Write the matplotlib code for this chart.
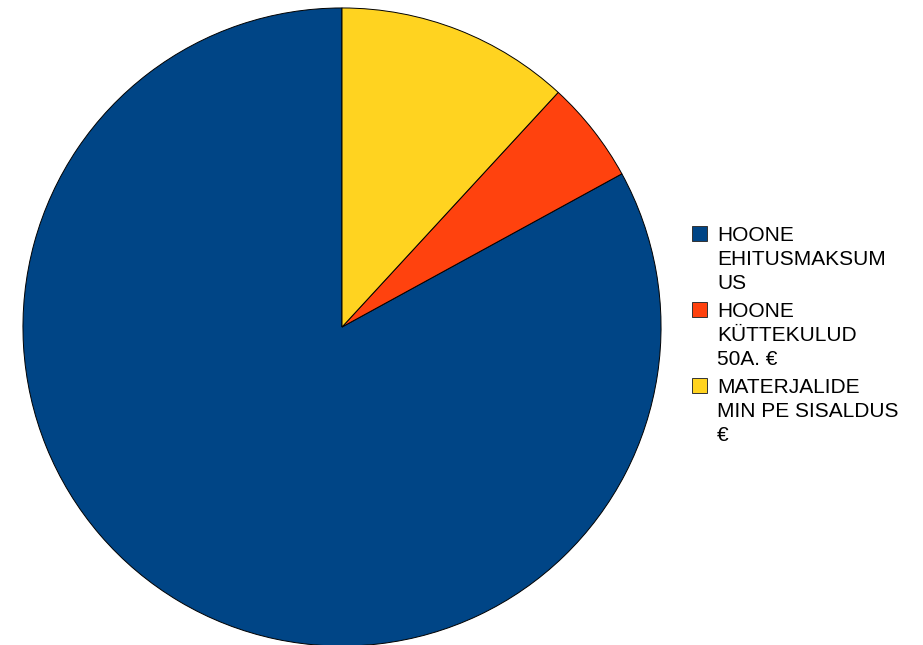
import matplotlib
matplotlib.use("Agg")
import matplotlib.pyplot as plt
from matplotlib.patches import Rectangle

plt.rcParams['font.family'] = ['Liberation Sans', 'DejaVu Sans']

# cost shares (%)
labels = [
    ["HOONE", "EHITUSMAKSUM", "US"],
    ["HOONE", "KÜTTEKULUD", "50A. €"],
    ["MATERJALIDE", "MIN PE SISALDUS", "€"],
]
values = [82.97, 5.18, 11.85]
colors = ["#004586", "#ff420e", "#ffd320"]

W, H = 923, 645
fig = plt.figure(figsize=(W / 100, H / 100), dpi=100)
ax = fig.add_axes([22 / W, -2 / H, 640 / W, 640 / H])

wedges, _ = ax.pie(values, colors=colors, startangle=90, counterclock=True,
                   wedgeprops=dict(edgecolor="black", linewidth=0.7))
ax.set_xlim(-1.003, 1.003)
ax.set_ylim(-1.003, 1.003)
ax.set_aspect("equal")

# legend drawn by hand, pixel positions from the top-left corner
def px(x, y):
    return x / W, 1 - y / H

for i, (lines, c) in enumerate(zip(labels, colors)):
    base = 241 + i * 76
    x0, y0 = px(692, base)
    fig.patches.append(Rectangle((x0, y0), 15 / W, 15 / H, transform=fig.transFigure,
                                 facecolor=c, edgecolor="#333333", linewidth=0.7))
    for j, line in enumerate(lines):
        tx, ty = px(717, base + j * 24)
        fig.text(tx, ty, line, fontsize=15, va="baseline", ha="left", color="black")

fig.savefig("out.png", dpi=100)
